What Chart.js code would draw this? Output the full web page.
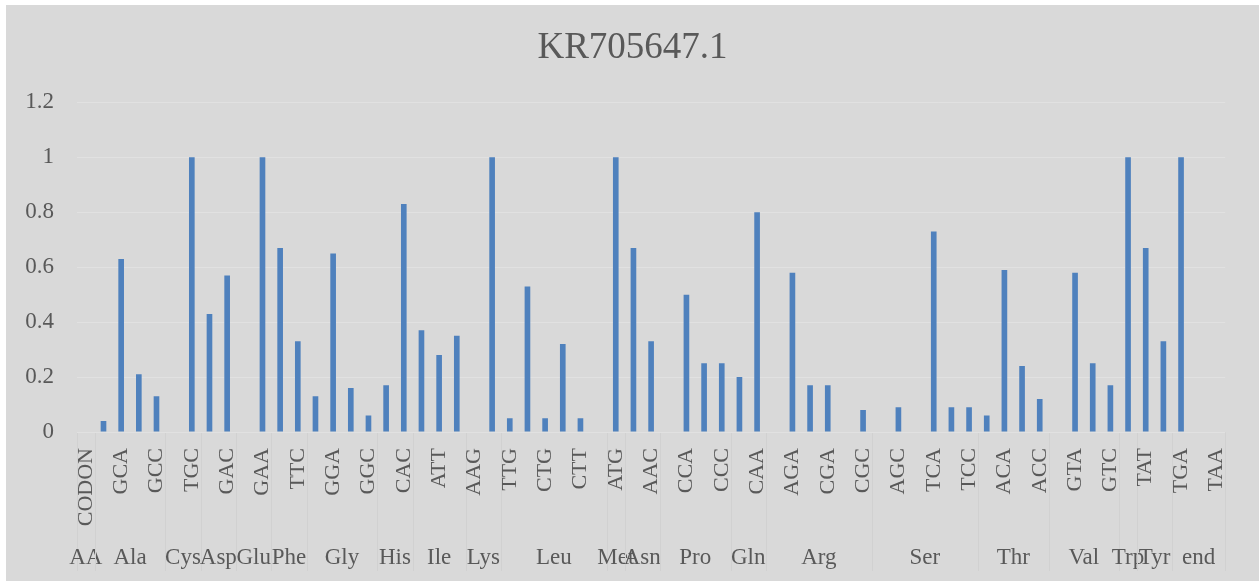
<!DOCTYPE html>
<html>
<head>
<meta charset="utf-8">
<script src="https://cdn.jsdelivr.net/npm/chart.js@4/dist/chart.umd.min.js"></script>
<style>
  body { margin: 0; background: #ffffff; }
  #box { position: absolute; left: 6px; top: 5px; width: 1253px; height: 576px; background: #d9d9d9; }
</style>
</head>
<body>
<div id="box"><canvas id="codons" width="1253" height="576"></canvas></div>
<script>
//codons in chart order (only every second one is printed on the axis)
const codons = [
  'CODON',
  'GCT', 'GCA', 'GCG', 'GCC',
  'TGT', 'TGC',
  'GAT', 'GAC',
  'GAG', 'GAA',
  'TTT', 'TTC',
  'GGT', 'GGA', 'GGG', 'GGC',
  'CAT', 'CAC',
  'ATA', 'ATT', 'ATC',
  'AAG', 'AAA',
  'TTG', 'TTA', 'CTG', 'CTA', 'CTT', 'CTC',
  'ATG',
  'AAT', 'AAC',
  'CCT', 'CCA', 'CCG', 'CCC',
  'CAG', 'CAA',
  'AGG', 'AGA', 'CGG', 'CGA', 'CGT', 'CGC',
  'AGT', 'AGC', 'TCG', 'TCA', 'TCT', 'TCC',
  'ACT', 'ACA', 'ACG', 'ACC',
  'GTT', 'GTA', 'GTG', 'GTC',
  'TGG',
  'TAT', 'TAC',
  'TGA', 'TAG', 'TAA',
];

//relative usage per codon
const usage = [
  0,
  0.04, 0.63, 0.21, 0.13,
  0, 1,
  0.43, 0.57,
  0, 1,
  0.67, 0.33,
  0.13, 0.65, 0.16, 0.06,
  0.17, 0.83,
  0.37, 0.28, 0.35,
  0, 1,
  0.05, 0.53, 0.05, 0.32, 0.05, 0,
  1,
  0.67, 0.33,
  0, 0.5, 0.25, 0.25,
  0.2, 0.8,
  0, 0.58, 0.17, 0.17, 0, 0.08,
  0, 0.09, 0, 0.73, 0.09, 0.09,
  0.06, 0.59, 0.24, 0.12,
  0, 0.58, 0.25, 0.17,
  1,
  0.67, 0.33,
  1, 0, 0,
];

//amino acid groups and how many codons each one has
const aminoAcids = ['AA', 'Ala', 'Cys', 'Asp', 'Glu', 'Phe', 'Gly', 'His', 'Ile', 'Lys', 'Leu',
  'Met', 'Asn', 'Pro', 'Gln', 'Arg', 'Ser', 'Thr', 'Val', 'Trp', 'Tyr', 'end'];
const groupSizes = [1, 4, 2, 2, 2, 2, 4, 2, 3, 2, 6, 1, 2, 4, 2, 6, 6, 4, 4, 1, 2, 3];

const yTicks = [0, 0.2, 0.4, 0.6, 0.8, 1, 1.2];

const textColor = '#595959';
const serif = "'Liberation Serif', serif";

//second level of the category axis: amino acid names and separators
const groupAxis = {
  id: 'groupAxis',
  beforeDraw(chart) {
    const ctx = chart.ctx;
    const x = chart.scales.x;
    const step = x.width / codons.length;
    const top = chart.chartArea.bottom;
    const edge = (i) => x.getPixelForValue(i) - step / 2;
    ctx.save();
    ctx.strokeStyle = '#d1d1d1';
    ctx.lineWidth = 1;
    ctx.fillStyle = textColor;
    ctx.font = '23px ' + serif;
    ctx.textAlign = 'center';
    ctx.textBaseline = 'middle';
    let start = 0;
    for (let g = 0; g <= groupSizes.length; g++) {
      const px = Math.round(edge(start)) + 0.5;
      ctx.beginPath();
      ctx.moveTo(px, top);
      ctx.lineTo(px, top + 139);
      ctx.stroke();
      if (g === groupSizes.length) break;
      const end = start + groupSizes[g];
      ctx.fillText(aminoAcids[g], (edge(start) + edge(end)) / 2, top + 126);
      start = end;
    }
    ctx.restore();
  },
};

const ctx = document.getElementById('codons').getContext('2d');

const codonChart = new Chart(ctx, {
  type: 'bar',
  data: {
    labels: codons,
    datasets: [
      {
        label: 'KR705647.1',
        data: usage,
        backgroundColor: '#4f81bd',
        categoryPercentage: 1,
        barPercentage: 0.32,
      },
    ],
  },
  options: {
    responsive: false,
    animation: false,
    layout: { padding: 0 },
    plugins: {
      legend: { display: false },
      tooltip: { enabled: false },
      title: {
        display: true,
        text: 'KR705647.1',
        color: textColor,
        font: { family: serif, size: 37, weight: 'normal' },
        padding: { top: 21, bottom: 32 },
      },
    },
    scales: {
      x: {
        grid: { display: false, drawTicks: false },
        border: { display: false },
        ticks: {
          autoSkip: false,
          minRotation: 90,
          maxRotation: 90,
          padding: 16,
          color: textColor,
          font: { family: serif, size: 22 },
          callback: (v, i) => (i % 2 === 0 ? codons[i] : ''),
        },
        afterFit: (scale) => {
          scale.height = 149;
        },
      },
      y: {
        min: 0,
        max: 1.2,
        grid: { color: '#e1e1e1', drawTicks: false },
        border: { display: false },
        afterBuildTicks: (scale) => {
          scale.ticks = yTicks.map((v) => ({ value: v }));
        },
        ticks: {
          padding: 23,
          color: textColor,
          font: { family: serif, size: 23 },
          callback: (v) => String(Math.round(v * 10) / 10),
        },
        afterFit: (scale) => {
          scale.width = 71;
        },
      },
      right: {
        position: 'right',
        display: true,
        grid: { display: false, drawTicks: false },
        border: { display: false },
        ticks: { display: false },
        afterFit: (scale) => {
          scale.width = 29;
        },
      },
    },
  },
  plugins: [groupAxis],
});
</script>
</body>
</html>
